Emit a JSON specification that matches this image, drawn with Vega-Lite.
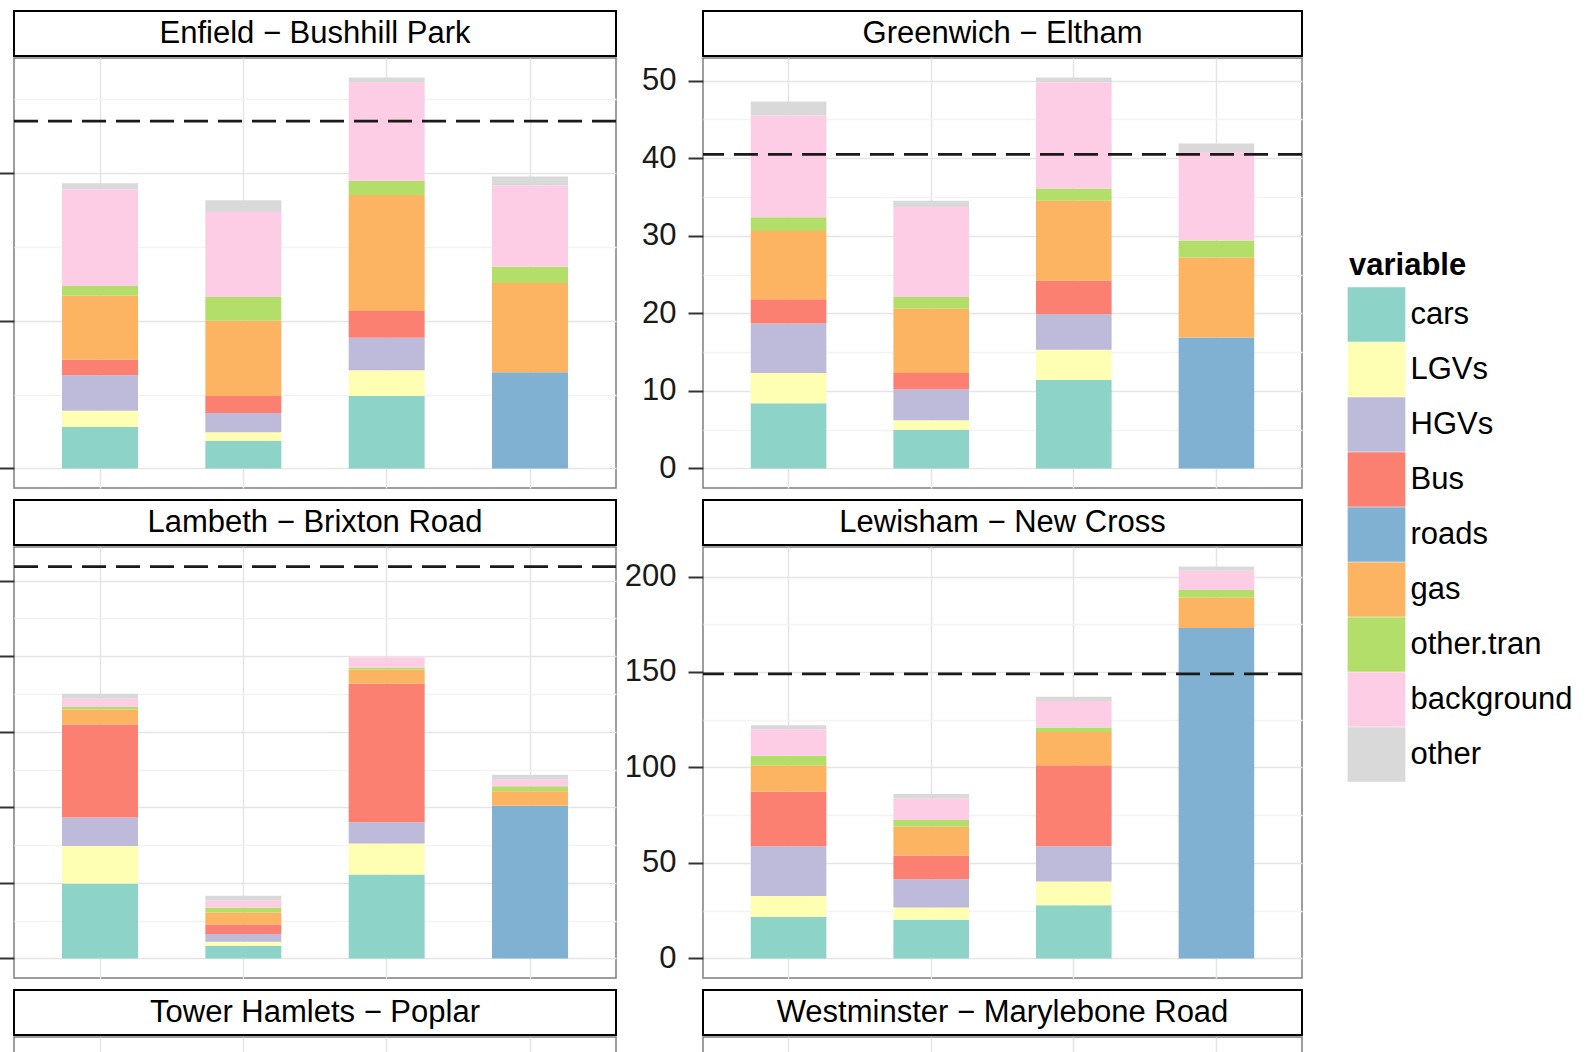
{
  "$schema": "https://vega.github.io/schema/vega-lite/v6.json",
  "background": "white",
  "padding": {"left": -3, "top": 10, "right": 0, "bottom": 0},
  "autosize": {"type": "pad"},
  "datasets": {
    "contrib": [
      {"site": "Enfield − Bushhill Park", "run": "1", "variable": "cars", "value": 5.6},
      {"site": "Enfield − Bushhill Park", "run": "1", "variable": "LGVs", "value": 2.2},
      {"site": "Enfield − Bushhill Park", "run": "1", "variable": "HGVs", "value": 4.8},
      {"site": "Enfield − Bushhill Park", "run": "1", "variable": "Bus", "value": 2.1},
      {"site": "Enfield − Bushhill Park", "run": "1", "variable": "gas", "value": 8.7},
      {"site": "Enfield − Bushhill Park", "run": "1", "variable": "other.tran", "value": 1.3},
      {"site": "Enfield − Bushhill Park", "run": "1", "variable": "background", "value": 13.1},
      {"site": "Enfield − Bushhill Park", "run": "1", "variable": "other", "value": 0.8},
      {"site": "Enfield − Bushhill Park", "run": "2", "variable": "cars", "value": 3.7},
      {"site": "Enfield − Bushhill Park", "run": "2", "variable": "LGVs", "value": 1.2},
      {"site": "Enfield − Bushhill Park", "run": "2", "variable": "HGVs", "value": 2.6},
      {"site": "Enfield − Bushhill Park", "run": "2", "variable": "Bus", "value": 2.3},
      {"site": "Enfield − Bushhill Park", "run": "2", "variable": "gas", "value": 10.2},
      {"site": "Enfield − Bushhill Park", "run": "2", "variable": "other.tran", "value": 3.2},
      {"site": "Enfield − Bushhill Park", "run": "2", "variable": "background", "value": 11.5},
      {"site": "Enfield − Bushhill Park", "run": "2", "variable": "other", "value": 1.6},
      {"site": "Enfield − Bushhill Park", "run": "3", "variable": "cars", "value": 9.8},
      {"site": "Enfield − Bushhill Park", "run": "3", "variable": "LGVs", "value": 3.5},
      {"site": "Enfield − Bushhill Park", "run": "3", "variable": "HGVs", "value": 4.4},
      {"site": "Enfield − Bushhill Park", "run": "3", "variable": "Bus", "value": 3.6},
      {"site": "Enfield − Bushhill Park", "run": "3", "variable": "gas", "value": 15.7},
      {"site": "Enfield − Bushhill Park", "run": "3", "variable": "other.tran", "value": 1.9},
      {"site": "Enfield − Bushhill Park", "run": "3", "variable": "background", "value": 13.4},
      {"site": "Enfield − Bushhill Park", "run": "3", "variable": "other", "value": 0.6},
      {"site": "Enfield − Bushhill Park", "run": "4", "variable": "roads", "value": 13.0},
      {"site": "Enfield − Bushhill Park", "run": "4", "variable": "gas", "value": 12.1},
      {"site": "Enfield − Bushhill Park", "run": "4", "variable": "other.tran", "value": 2.2},
      {"site": "Enfield − Bushhill Park", "run": "4", "variable": "background", "value": 11.0},
      {"site": "Enfield − Bushhill Park", "run": "4", "variable": "other", "value": 1.2},

      {"site": "Greenwich − Eltham", "run": "1", "variable": "cars", "value": 8.4},
      {"site": "Greenwich − Eltham", "run": "1", "variable": "LGVs", "value": 3.9},
      {"site": "Greenwich − Eltham", "run": "1", "variable": "HGVs", "value": 6.4},
      {"site": "Greenwich − Eltham", "run": "1", "variable": "Bus", "value": 3.1},
      {"site": "Greenwich − Eltham", "run": "1", "variable": "gas", "value": 8.8},
      {"site": "Greenwich − Eltham", "run": "1", "variable": "other.tran", "value": 1.8},
      {"site": "Greenwich − Eltham", "run": "1", "variable": "background", "value": 13.1},
      {"site": "Greenwich − Eltham", "run": "1", "variable": "other", "value": 1.8},
      {"site": "Greenwich − Eltham", "run": "2", "variable": "cars", "value": 5.0},
      {"site": "Greenwich − Eltham", "run": "2", "variable": "LGVs", "value": 1.2},
      {"site": "Greenwich − Eltham", "run": "2", "variable": "HGVs", "value": 4.0},
      {"site": "Greenwich − Eltham", "run": "2", "variable": "Bus", "value": 2.1},
      {"site": "Greenwich − Eltham", "run": "2", "variable": "gas", "value": 8.3},
      {"site": "Greenwich − Eltham", "run": "2", "variable": "other.tran", "value": 1.5},
      {"site": "Greenwich − Eltham", "run": "2", "variable": "background", "value": 11.6},
      {"site": "Greenwich − Eltham", "run": "2", "variable": "other", "value": 0.8},
      {"site": "Greenwich − Eltham", "run": "3", "variable": "cars", "value": 11.4},
      {"site": "Greenwich − Eltham", "run": "3", "variable": "LGVs", "value": 3.9},
      {"site": "Greenwich − Eltham", "run": "3", "variable": "HGVs", "value": 4.6},
      {"site": "Greenwich − Eltham", "run": "3", "variable": "Bus", "value": 4.3},
      {"site": "Greenwich − Eltham", "run": "3", "variable": "gas", "value": 10.3},
      {"site": "Greenwich − Eltham", "run": "3", "variable": "other.tran", "value": 1.6},
      {"site": "Greenwich − Eltham", "run": "3", "variable": "background", "value": 13.7},
      {"site": "Greenwich − Eltham", "run": "3", "variable": "other", "value": 0.6},
      {"site": "Greenwich − Eltham", "run": "4", "variable": "roads", "value": 16.9},
      {"site": "Greenwich − Eltham", "run": "4", "variable": "gas", "value": 10.3},
      {"site": "Greenwich − Eltham", "run": "4", "variable": "other.tran", "value": 2.2},
      {"site": "Greenwich − Eltham", "run": "4", "variable": "background", "value": 11.4},
      {"site": "Greenwich − Eltham", "run": "4", "variable": "other", "value": 1.1},

      {"site": "Lambeth − Brixton Road", "run": "1", "variable": "cars", "value": 49.6},
      {"site": "Lambeth − Brixton Road", "run": "1", "variable": "LGVs", "value": 24.8},
      {"site": "Lambeth − Brixton Road", "run": "1", "variable": "HGVs", "value": 18.8},
      {"site": "Lambeth − Brixton Road", "run": "1", "variable": "Bus", "value": 61.6},
      {"site": "Lambeth − Brixton Road", "run": "1", "variable": "gas", "value": 10.0},
      {"site": "Lambeth − Brixton Road", "run": "1", "variable": "other.tran", "value": 1.5},
      {"site": "Lambeth − Brixton Road", "run": "1", "variable": "background", "value": 5.5},
      {"site": "Lambeth − Brixton Road", "run": "1", "variable": "other", "value": 3.3},
      {"site": "Lambeth − Brixton Road", "run": "2", "variable": "cars", "value": 8.4},
      {"site": "Lambeth − Brixton Road", "run": "2", "variable": "LGVs", "value": 2.6},
      {"site": "Lambeth − Brixton Road", "run": "2", "variable": "HGVs", "value": 5.1},
      {"site": "Lambeth − Brixton Road", "run": "2", "variable": "Bus", "value": 6.4},
      {"site": "Lambeth − Brixton Road", "run": "2", "variable": "gas", "value": 7.9},
      {"site": "Lambeth − Brixton Road", "run": "2", "variable": "other.tran", "value": 3.3},
      {"site": "Lambeth − Brixton Road", "run": "2", "variable": "background", "value": 4.8},
      {"site": "Lambeth − Brixton Road", "run": "2", "variable": "other", "value": 2.9},
      {"site": "Lambeth − Brixton Road", "run": "3", "variable": "cars", "value": 55.5},
      {"site": "Lambeth − Brixton Road", "run": "3", "variable": "LGVs", "value": 20.5},
      {"site": "Lambeth − Brixton Road", "run": "3", "variable": "HGVs", "value": 14.1},
      {"site": "Lambeth − Brixton Road", "run": "3", "variable": "Bus", "value": 91.6},
      {"site": "Lambeth − Brixton Road", "run": "3", "variable": "gas", "value": 9.5},
      {"site": "Lambeth − Brixton Road", "run": "3", "variable": "other.tran", "value": 1.3},
      {"site": "Lambeth − Brixton Road", "run": "3", "variable": "background", "value": 6.8},
      {"site": "Lambeth − Brixton Road", "run": "3", "variable": "other", "value": 0.0},
      {"site": "Lambeth − Brixton Road", "run": "4", "variable": "roads", "value": 101.1},
      {"site": "Lambeth − Brixton Road", "run": "4", "variable": "gas", "value": 9.5},
      {"site": "Lambeth − Brixton Road", "run": "4", "variable": "other.tran", "value": 3.3},
      {"site": "Lambeth − Brixton Road", "run": "4", "variable": "background", "value": 4.4},
      {"site": "Lambeth − Brixton Road", "run": "4", "variable": "other", "value": 3.3},

      {"site": "Lewisham − New Cross", "run": "1", "variable": "cars", "value": 21.7},
      {"site": "Lewisham − New Cross", "run": "1", "variable": "LGVs", "value": 11.0},
      {"site": "Lewisham − New Cross", "run": "1", "variable": "HGVs", "value": 26.1},
      {"site": "Lewisham − New Cross", "run": "1", "variable": "Bus", "value": 28.5},
      {"site": "Lewisham − New Cross", "run": "1", "variable": "gas", "value": 13.9},
      {"site": "Lewisham − New Cross", "run": "1", "variable": "other.tran", "value": 4.9},
      {"site": "Lewisham − New Cross", "run": "1", "variable": "background", "value": 13.9},
      {"site": "Lewisham − New Cross", "run": "1", "variable": "other", "value": 2.1},
      {"site": "Lewisham − New Cross", "run": "2", "variable": "cars", "value": 20.3},
      {"site": "Lewisham − New Cross", "run": "2", "variable": "LGVs", "value": 6.3},
      {"site": "Lewisham − New Cross", "run": "2", "variable": "HGVs", "value": 14.8},
      {"site": "Lewisham − New Cross", "run": "2", "variable": "Bus", "value": 12.5},
      {"site": "Lewisham − New Cross", "run": "2", "variable": "gas", "value": 15.1},
      {"site": "Lewisham − New Cross", "run": "2", "variable": "other.tran", "value": 3.5},
      {"site": "Lewisham − New Cross", "run": "2", "variable": "background", "value": 11.3},
      {"site": "Lewisham − New Cross", "run": "2", "variable": "other", "value": 2.3},
      {"site": "Lewisham − New Cross", "run": "3", "variable": "cars", "value": 27.8},
      {"site": "Lewisham − New Cross", "run": "3", "variable": "LGVs", "value": 12.5},
      {"site": "Lewisham − New Cross", "run": "3", "variable": "HGVs", "value": 18.5},
      {"site": "Lewisham − New Cross", "run": "3", "variable": "Bus", "value": 42.4},
      {"site": "Lewisham − New Cross", "run": "3", "variable": "gas", "value": 17.4},
      {"site": "Lewisham − New Cross", "run": "3", "variable": "other.tran", "value": 2.3},
      {"site": "Lewisham − New Cross", "run": "3", "variable": "background", "value": 13.9},
      {"site": "Lewisham − New Cross", "run": "3", "variable": "other", "value": 2.2},
      {"site": "Lewisham − New Cross", "run": "4", "variable": "roads", "value": 173.0},
      {"site": "Lewisham − New Cross", "run": "4", "variable": "gas", "value": 16.0},
      {"site": "Lewisham − New Cross", "run": "4", "variable": "other.tran", "value": 3.9},
      {"site": "Lewisham − New Cross", "run": "4", "variable": "background", "value": 10.1},
      {"site": "Lewisham − New Cross", "run": "4", "variable": "other", "value": 2.2}
    ],
    "measured": [
      {"site": "Enfield − Bushhill Park", "value": 47.0},
      {"site": "Greenwich − Eltham", "value": 40.5},
      {"site": "Lambeth − Brixton Road", "value": 259.3},
      {"site": "Lewisham − New Cross", "value": 149.0}
    ]
  },
  "columns": 2,
  "spacing": {"row": 10, "column": 4},
  "resolve": {"scale": {"x": "independent", "y": "independent", "color": "shared"}, "legend": {"color": "shared"}},
  "concat": [
    {
      "spacing": 0,
      "vconcat": [
        {"width": 602, "height": 45, "view": {"stroke": "black", "strokeWidth": 2, "fill": "white"},
         "data": {"values": [{"site": "Enfield − Bushhill Park"}]},
         "mark": {"type": "text", "fontSize": 31, "color": "black", "baseline": "middle", "align": "center"},
         "encoding": {"text": {"field": "site"}}},
        {"width": 602, "height": 430,
         "layer": [
          {"data": {"name": "contrib"},
           "transform": [{"filter": "datum.site === 'Enfield − Bushhill Park'"}, {"window": [{"op": "row_number", "as": "seq"}]}],
           "mark": {"type": "bar"},
           "encoding": {
             "x": {"field": "run", "type": "nominal", "scale": {"domain": ["1", "2", "3", "4"], "paddingInner": 0.47, "paddingOuter": 0.335}, "axis": {"grid": true, "bandPosition": 0.5}},
             "y": {"field": "value", "type": "quantitative", "stack": "zero", "scale": {"domain": [-2.65, 55.55], "nice": false, "zero": false},
                   "axis": {"labels": false, "values": [0, 10, 20, 30, 40, 50],
                            "gridColor": {"condition": {"test": "datum.value % 20 === 0", "value": "#E5E5E5"}, "value": "#F3F3F3"},
                            "tickOpacity": {"condition": {"test": "datum.value % 20 === 0", "value": 1}, "value": 0}}},
             "color": {"field": "variable", "type": "nominal",
                       "scale": {"domain": ["cars", "LGVs", "HGVs", "Bus", "roads", "gas", "other.tran", "background", "other"],
                                 "range": ["#8DD3C7", "#FFFFB3", "#BEBADA", "#FB8072", "#80B1D3", "#FDB462", "#B3DE69", "#FCCDE5", "#D9D9D9"]},
                       "legend": {"title": "variable", "orient": "none", "legendX": 1335, "legendY": 240}},
             "order": {"field": "seq", "type": "quantitative", "sort": "ascending"}
           }},
          {"data": {"name": "measured"},
           "transform": [{"filter": "datum.site === 'Enfield − Bushhill Park'"}],
           "mark": {"type": "rule", "color": "#1A1A1A", "strokeWidth": 2.6, "strokeDash": [24, 10]},
           "encoding": {"y": {"field": "value", "type": "quantitative"}}}
         ]}
      ]
    },
    {
      "spacing": 0,
      "vconcat": [
        {"width": 599, "height": 45, "view": {"stroke": "black", "strokeWidth": 2, "fill": "white"},
         "data": {"values": [{"site": "Greenwich − Eltham"}]},
         "mark": {"type": "text", "fontSize": 31, "color": "black", "baseline": "middle", "align": "center"},
         "encoding": {"text": {"field": "site"}}},
        {"width": 599, "height": 430,
         "layer": [
          {"data": {"name": "contrib"},
           "transform": [{"filter": "datum.site === 'Greenwich − Eltham'"}, {"window": [{"op": "row_number", "as": "seq"}]}],
           "mark": {"type": "bar"},
           "encoding": {
             "x": {"field": "run", "type": "nominal", "scale": {"domain": ["1", "2", "3", "4"], "paddingInner": 0.47, "paddingOuter": 0.335}, "axis": {"grid": true, "bandPosition": 0.5}},
             "y": {"field": "value", "type": "quantitative", "stack": "zero", "scale": {"domain": [-2.52, 52.92], "nice": false, "zero": false},
                   "axis": {"values": [0, 5, 10, 15, 20, 25, 30, 35, 40, 45, 50],
                            "labelExpr": "datum.value % 10 === 0 ? datum.label : ''",
                            "gridColor": {"condition": {"test": "datum.value % 10 === 0", "value": "#E5E5E5"}, "value": "#F3F3F3"},
                            "tickOpacity": {"condition": {"test": "datum.value % 10 === 0", "value": 1}, "value": 0}}},
             "color": {"field": "variable", "type": "nominal",
                       "scale": {"domain": ["cars", "LGVs", "HGVs", "Bus", "roads", "gas", "other.tran", "background", "other"],
                                 "range": ["#8DD3C7", "#FFFFB3", "#BEBADA", "#FB8072", "#80B1D3", "#FDB462", "#B3DE69", "#FCCDE5", "#D9D9D9"]},
                       "legend": {"title": "variable", "orient": "none", "legendX": 1335, "legendY": 240}},
             "order": {"field": "seq", "type": "quantitative", "sort": "ascending"}
           }},
          {"data": {"name": "measured"},
           "transform": [{"filter": "datum.site === 'Greenwich − Eltham'"}],
           "mark": {"type": "rule", "color": "#1A1A1A", "strokeWidth": 2.6, "strokeDash": [24, 10]},
           "encoding": {"y": {"field": "value", "type": "quantitative"}}}
         ]}
      ]
    },
    {
      "spacing": 0,
      "vconcat": [
        {"width": 602, "height": 45, "view": {"stroke": "black", "strokeWidth": 2, "fill": "white"},
         "data": {"values": [{"site": "Lambeth − Brixton Road"}]},
         "mark": {"type": "text", "fontSize": 31, "color": "black", "baseline": "middle", "align": "center"},
         "encoding": {"text": {"field": "site"}}},
        {"width": 602, "height": 431,
         "layer": [
          {"data": {"name": "contrib"},
           "transform": [{"filter": "datum.site === 'Lambeth − Brixton Road'"}, {"window": [{"op": "row_number", "as": "seq"}]}],
           "mark": {"type": "bar"},
           "encoding": {
             "x": {"field": "run", "type": "nominal", "scale": {"domain": ["1", "2", "3", "4"], "paddingInner": 0.47, "paddingOuter": 0.335}, "axis": {"grid": true, "bandPosition": 0.5}},
             "y": {"field": "value", "type": "quantitative", "stack": "zero", "scale": {"domain": [-12.97, 272.27], "nice": false, "zero": false},
                   "axis": {"labels": false, "values": [0, 25, 50, 75, 100, 125, 150, 175, 200, 225, 250],
                            "gridColor": {"condition": {"test": "datum.value % 50 === 0", "value": "#E5E5E5"}, "value": "#F3F3F3"},
                            "tickOpacity": {"condition": {"test": "datum.value % 50 === 0", "value": 1}, "value": 0}}},
             "color": {"field": "variable", "type": "nominal",
                       "scale": {"domain": ["cars", "LGVs", "HGVs", "Bus", "roads", "gas", "other.tran", "background", "other"],
                                 "range": ["#8DD3C7", "#FFFFB3", "#BEBADA", "#FB8072", "#80B1D3", "#FDB462", "#B3DE69", "#FCCDE5", "#D9D9D9"]},
                       "legend": {"title": "variable", "orient": "none", "legendX": 1335, "legendY": 240}},
             "order": {"field": "seq", "type": "quantitative", "sort": "ascending"}
           }},
          {"data": {"name": "measured"},
           "transform": [{"filter": "datum.site === 'Lambeth − Brixton Road'"}],
           "mark": {"type": "rule", "color": "#1A1A1A", "strokeWidth": 2.6, "strokeDash": [24, 10]},
           "encoding": {"y": {"field": "value", "type": "quantitative"}}}
         ]}
      ]
    },
    {
      "spacing": 0,
      "vconcat": [
        {"width": 599, "height": 45, "view": {"stroke": "black", "strokeWidth": 2, "fill": "white"},
         "data": {"values": [{"site": "Lewisham − New Cross"}]},
         "mark": {"type": "text", "fontSize": 31, "color": "black", "baseline": "middle", "align": "center"},
         "encoding": {"text": {"field": "site"}}},
        {"width": 599, "height": 431,
         "layer": [
          {"data": {"name": "contrib"},
           "transform": [{"filter": "datum.site === 'Lewisham − New Cross'"}, {"window": [{"op": "row_number", "as": "seq"}]}],
           "mark": {"type": "bar"},
           "encoding": {
             "x": {"field": "run", "type": "nominal", "scale": {"domain": ["1", "2", "3", "4"], "paddingInner": 0.47, "paddingOuter": 0.335}, "axis": {"grid": true, "bandPosition": 0.5}},
             "y": {"field": "value", "type": "quantitative", "stack": "zero", "scale": {"domain": [-10.26, 215.46], "nice": false, "zero": false},
                   "axis": {"values": [0, 25, 50, 75, 100, 125, 150, 175, 200],
                            "labelExpr": "datum.value % 50 === 0 ? datum.label : ''",
                            "gridColor": {"condition": {"test": "datum.value % 50 === 0", "value": "#E5E5E5"}, "value": "#F3F3F3"},
                            "tickOpacity": {"condition": {"test": "datum.value % 50 === 0", "value": 1}, "value": 0}}},
             "color": {"field": "variable", "type": "nominal",
                       "scale": {"domain": ["cars", "LGVs", "HGVs", "Bus", "roads", "gas", "other.tran", "background", "other"],
                                 "range": ["#8DD3C7", "#FFFFB3", "#BEBADA", "#FB8072", "#80B1D3", "#FDB462", "#B3DE69", "#FCCDE5", "#D9D9D9"]},
                       "legend": {"title": "variable", "orient": "none", "legendX": 1335, "legendY": 240}},
             "order": {"field": "seq", "type": "quantitative", "sort": "ascending"}
           }},
          {"data": {"name": "measured"},
           "transform": [{"filter": "datum.site === 'Lewisham − New Cross'"}],
           "mark": {"type": "rule", "color": "#1A1A1A", "strokeWidth": 2.6, "strokeDash": [24, 10]},
           "encoding": {"y": {"field": "value", "type": "quantitative"}}}
         ]}
      ]
    },
    {
      "spacing": 0,
      "vconcat": [
        {"width": 602, "height": 45, "view": {"stroke": "black", "strokeWidth": 2, "fill": "white"},
         "data": {"values": [{"site": "Tower Hamlets − Poplar"}]},
         "mark": {"type": "text", "fontSize": 31, "color": "black", "baseline": "middle", "align": "center"},
         "encoding": {"text": {"field": "site"}}},
        {"width": 602, "height": 30,
         "data": {"name": "contrib"},
         "transform": [{"filter": "datum.site === 'Tower Hamlets − Poplar'"}],
         "mark": {"type": "bar"},
         "encoding": {
           "x": {"field": "run", "type": "nominal", "scale": {"domain": ["1", "2", "3", "4"], "paddingInner": 0.47, "paddingOuter": 0.335}, "axis": {"grid": true, "bandPosition": 0.5}},
           "y": {"field": "value", "type": "quantitative", "scale": {"domain": [0, 1], "nice": false}, "axis": {"labels": false, "values": []}},
           "color": {"field": "variable", "type": "nominal",
                     "scale": {"domain": ["cars", "LGVs", "HGVs", "Bus", "roads", "gas", "other.tran", "background", "other"],
                               "range": ["#8DD3C7", "#FFFFB3", "#BEBADA", "#FB8072", "#80B1D3", "#FDB462", "#B3DE69", "#FCCDE5", "#D9D9D9"]},
                     "legend": {"title": "variable", "orient": "none", "legendX": 1335, "legendY": 240}}
         }}
      ]
    },
    {
      "spacing": 0,
      "vconcat": [
        {"width": 599, "height": 45, "view": {"stroke": "black", "strokeWidth": 2, "fill": "white"},
         "data": {"values": [{"site": "Westminster − Marylebone Road"}]},
         "mark": {"type": "text", "fontSize": 31, "color": "black", "baseline": "middle", "align": "center"},
         "encoding": {"text": {"field": "site"}}},
        {"width": 599, "height": 30,
         "data": {"name": "contrib"},
         "transform": [{"filter": "datum.site === 'Westminster − Marylebone Road'"}],
         "mark": {"type": "bar"},
         "encoding": {
           "x": {"field": "run", "type": "nominal", "scale": {"domain": ["1", "2", "3", "4"], "paddingInner": 0.47, "paddingOuter": 0.335}, "axis": {"grid": true, "bandPosition": 0.5}},
           "y": {"field": "value", "type": "quantitative", "scale": {"domain": [0, 1], "nice": false}, "axis": {"labels": false, "values": []}},
           "color": {"field": "variable", "type": "nominal",
                     "scale": {"domain": ["cars", "LGVs", "HGVs", "Bus", "roads", "gas", "other.tran", "background", "other"],
                               "range": ["#8DD3C7", "#FFFFB3", "#BEBADA", "#FB8072", "#80B1D3", "#FDB462", "#B3DE69", "#FCCDE5", "#D9D9D9"]},
                     "legend": {"title": "variable", "orient": "none", "legendX": 1335, "legendY": 240}}
         }}
      ]
    }
  ],
  "config": {
    "font": "Liberation Sans",
    "view": {"stroke": "#7F7F7F", "strokeWidth": 1.5, "fill": "white"},
    "axisX": {"labels": false, "ticks": false, "domain": false, "title": null, "grid": true, "gridColor": "#E5E5E5", "gridWidth": 1.5},
    "axisY": {"title": null, "domain": false, "tickSize": 15, "tickColor": "#333333", "tickWidth": 2, "labelFontSize": 31, "labelColor": "#1A1A1A", "labelPadding": 12, "labelOverlap": false, "labelFlush": false, "gridWidth": 1.5},
    "legend": {"titleFontSize": 31, "titleFontWeight": "bold", "titleColor": "#000000", "labelFontSize": 31, "labelColor": "#000000", "labelLimit": 0,
               "symbolType": "M-1.055,-1H1.055V1H-1.055Z", "symbolSize": 2992, "symbolStrokeWidth": 0, "symbolOpacity": 1,
               "rowPadding": 0, "labelOffset": 6.5, "titlePadding": 5}
  }
}
